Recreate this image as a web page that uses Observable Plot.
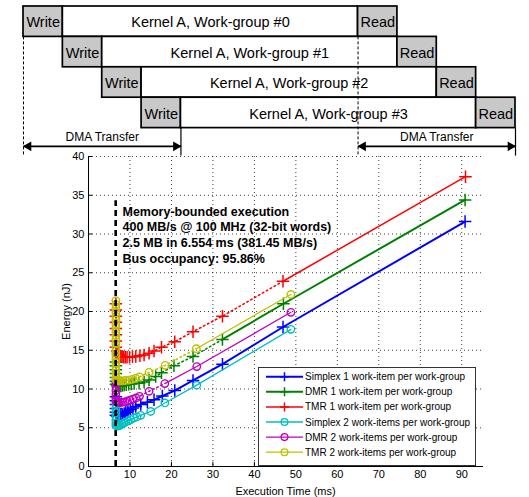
<!DOCTYPE html>
<html>
<head>
<meta charset="utf-8">
<script src="https://cdn.jsdelivr.net/npm/d3@7"></script>
<script src="https://cdn.jsdelivr.net/npm/@observablehq/plot@0.6"></script>
<style>
  body { margin: 0; background: #fff; }
  #wrap { position: relative; width: 529px; height: 497px; font-family: Arial, "Liberation Sans", sans-serif; overflow: hidden; }
  #main { position: absolute; left: 0; top: 150px; }
  #top { position: absolute; left: 0; top: 0; }
  #legend { position: absolute; left: 258px; top: 367px; }
</style>
</head>
<body>
<div id="wrap"><div id="main"></div><div id="top"></div><div id="legend"></div></div>
<script>
// ---------- Top timing diagram (time in units of one DMA write) ----------
const rows = [0, 1, 2, 3];
const writeStart = [0, 1, 2, 3];
const writeLen = 1;
const kernelLen = 7.5;
const readLen = 1;
const kernelLabels = ["Kernel A, Work-group #0", "Kernel A, Work-group #1", "Kernel A, Work-group #2", "Kernel A, Work-group #3"];
const writeLabel = "Write";
const readLabel = "Read";
const dmaLabel = "DMA Transfer";
const dmaStart = [0, 8.5];
const dmaEnd = [4, 12.5];
const guideX = [0, 4, 8.5, 12.5];
const guideFrom = [1, 4, 1, 4];
const guideDashed = [true, false, true, false];

// ---------- Energy vs execution time ----------
const xTicks = [0, 10, 20, 30, 40, 50, 60, 70, 80, 90];
const yTicks = [0, 5, 10, 15, 20, 25, 30, 35, 40];
const seriesNames = [
  "Simplex 1 work-item per work-group",
  "DMR 1 work-item per work-group",
  "TMR 1 work-item per work-group",
  "Simplex 2 work-items per work-group",
  "DMR 2 work-items per work-group",
  "TMR 2 work-items per work-group"
];
const simplex1X = [6.6, 6.6, 6.6, 6.6, 6.6, 6.6, 6.9, 7.2, 7.5, 7.8, 8.2, 8.6, 9.0, 9.5, 10.1, 10.7, 11.4, 12.6, 14.2, 15.8, 17.8, 20.8, 25.2, 32.3, 46.9, 90.8];
const simplex1Y = [9.0, 8.5, 8.0, 7.5, 7.0, 6.6, 6.5, 6.5, 6.55, 6.6, 6.7, 6.85, 7.0, 7.15, 7.35, 7.55, 7.75, 8.0, 8.3, 8.6, 9.1, 9.8, 11.1, 13.2, 18.0, 31.6];
const dmr1X = [6.6, 6.6, 6.6, 6.6, 6.6, 6.6, 6.6, 6.9, 7.2, 7.5, 7.8, 8.2, 8.6, 9.1, 9.7, 10.3, 11.0, 12.2, 13.4, 14.6, 16.2, 17.6, 20.6, 25.2, 32.3, 47.0, 90.8];
const dmr1Y = [13.5, 13.0, 12.5, 12.0, 11.5, 11.0, 10.6, 10.45, 10.4, 10.4, 10.4, 10.45, 10.5, 10.55, 10.6, 10.65, 10.7, 10.75, 10.9, 11.15, 11.6, 12.1, 13.0, 14.2, 16.4, 21.0, 34.4];
const tmr1X = [6.6, 6.6, 6.6, 6.6, 6.6, 6.6, 6.6, 6.6, 6.9, 7.1, 7.3, 7.5, 7.8, 8.1, 8.5, 8.9, 9.3, 9.9, 10.6, 11.4, 12.4, 13.4, 14.6, 15.8, 17.6, 20.8, 25.2, 32.3, 46.9, 90.9];
const tmr1Y = [21.0, 20.2, 19.4, 18.6, 17.8, 17.0, 16.2, 15.4, 14.9, 14.6, 14.4, 14.3, 14.2, 14.15, 14.1, 14.1, 14.1, 14.1, 14.15, 14.2, 14.3, 14.4, 14.6, 14.9, 15.4, 16.1, 17.4, 19.4, 23.9, 37.4];
const simplex2X = [6.6, 6.6, 6.6, 6.6, 6.6, 6.6, 6.6, 6.9, 7.3, 7.7, 8.1, 8.5, 9.0, 9.6, 10.2, 10.9, 11.7, 12.6, 15.0, 18.4, 26.1, 48.8];
const simplex2Y = [8.0, 7.5, 7.0, 6.5, 6.0, 5.6, 5.3, 5.2, 5.25, 5.35, 5.5, 5.6, 5.75, 5.9, 6.05, 6.25, 6.4, 6.6, 7.1, 8.2, 10.5, 17.7];
const dmr2X = [6.6, 6.6, 6.6, 6.6, 6.6, 6.6, 6.9, 7.3, 7.7, 8.2, 8.8, 9.4, 10.0, 10.7, 11.5, 12.3, 14.6, 18.4, 26.1, 48.8];
const dmr2Y = [10.8, 10.3, 9.8, 9.3, 8.8, 8.4, 8.3, 8.25, 8.25, 8.3, 8.35, 8.45, 8.55, 8.7, 8.85, 9.05, 9.7, 10.7, 12.9, 19.9];
const tmr2X = [6.6, 6.6, 6.6, 6.6, 6.6, 6.6, 6.6, 6.6, 6.6, 6.6, 6.6, 6.6, 6.6, 6.6, 6.6, 6.6, 6.6, 6.6, 6.6, 6.6, 6.6, 6.6, 6.9, 7.3, 7.7, 8.2, 8.9, 9.7, 10.5, 11.4, 12.3, 14.6, 18.5, 26.0, 48.8];
const tmr2Y = [21.4, 20.9, 20.4, 19.9, 19.4, 18.9, 18.4, 17.9, 17.4, 16.9, 16.4, 15.9, 15.4, 14.9, 14.4, 13.9, 13.4, 12.9, 12.4, 11.9, 11.5, 11.2, 11.1, 11.05, 11.05, 11.05, 11.1, 11.15, 11.25, 11.4, 11.55, 12.15, 13.05, 15.2, 22.2];
// points at or beyond this execution time are joined by a solid line, earlier ones by a dotted line
const solidFrom = [0, 32.3, 46.9, 0, 18.4, 26.0];
const memBoundTime = 6.554;
const memBoundTop = 34.3;
const annotation = [
  "Memory-bounded execution",
  "400 MB/s @ 100 MHz (32-bit words)",
  "2.5 MB in 6.554 ms (381.45 MB/s)",
  "Bus occupancy: 95.86%"
];
const annotationX = 8.2;
const annotationY = 33.8;

const seriesX = [simplex1X, dmr1X, tmr1X, simplex2X, dmr2X, tmr2X];
const seriesY = [simplex1Y, dmr1Y, tmr1Y, simplex2Y, dmr2Y, tmr2Y];
const colors = ["#0000ff", "#008000", "#ff0000", "#00bfbf", "#bf00bf", "#bfbf00"];
const lineWidths = [2, 2, 1.5, 1.3, 1.3, 1.3];
const symbols = ["plus", "plus", "plus", "circle", "circle", "circle"];
const FONT = "Arial, 'Liberation Sans', sans-serif";

// ---------- build top diagram ----------
const stages = [];
rows.forEach((r, i) => {
  const w0 = writeStart[i];
  stages.push({row: r, x1: w0, x2: w0 + writeLen, kind: "io", label: writeLabel});
  stages.push({row: r, x1: w0 + writeLen, x2: w0 + writeLen + kernelLen, kind: "kernel", label: kernelLabels[i]});
  stages.push({row: r, x1: w0 + writeLen + kernelLen, x2: w0 + writeLen + kernelLen + readLen, kind: "io", label: readLabel});
});
const guides = guideX.map((x, i) => ({x, from: guideFrom[i], dashed: guideDashed[i]}));
const dma = dmaStart.map((s, i) => ({x1: s, x2: dmaEnd[i], label: dmaLabel}));
const arrowY = 4.6;
const guideEnd = 4.92;

const topPlot = Plot.plot({
  width: 529, height: 160,
  marginTop: 6, marginBottom: 2, marginLeft: 23, marginRight: 14,
  style: {background: "transparent", overflow: "visible", fontFamily: FONT},
  x: {domain: [0, 12.5], axis: null},
  y: {domain: [0, 5], reverse: true, axis: null},
  marks: [
    Plot.rect(stages, {x1: "x1", x2: "x2", y1: "row", y2: d => d.row + 1,
      fill: d => d.kind === "kernel" ? "#ffffff" : "#c8c8c8", stroke: "#000", strokeWidth: 1.7}),
    Plot.text(stages, {x: d => (d.x1 + d.x2) / 2, y: d => d.row + 0.5, text: "label",
      fontSize: 14.5, fill: "#000", dy: 1}),
    Plot.ruleX(guides.filter(g => g.dashed), {x: "x", y1: "from", y2: guideEnd, stroke: "#000", strokeWidth: 1, strokeDasharray: "3,2"}),
    Plot.ruleX(guides.filter(g => !g.dashed), {x: "x", y1: "from", y2: guideEnd, stroke: "#000", strokeWidth: 1.2}),
    Plot.link(dma, {x1: "x1", x2: "x2", y1: arrowY, y2: arrowY, stroke: "#000", strokeWidth: 1.6}),
    Plot.dot(dma, {x: "x2", y: arrowY, symbol: "triangle", r: 3.6, fill: "#000", stroke: "none", rotate: 90, dx: -5}),
    Plot.dot(dma, {x: "x1", y: arrowY, symbol: "triangle", r: 3.6, fill: "#000", stroke: "none", rotate: -90, dx: 5}),
    Plot.text(dma, {x: d => (d.x1 + d.x2) / 2, y: 4.3, text: "label", fontSize: 12, fill: "#000"})
  ]
});
document.getElementById("top").appendChild(topPlot);

// ---------- build main chart ----------
const seriesMarks = seriesNames.flatMap((name, i) => {
  const pts = seriesX[i].map((x, j) => ({x, y: seriesY[i][j]}));
  const dotted = pts.filter(p => p.x <= solidFrom[i]);
  const solid = pts.filter(p => p.x >= solidFrom[i]);
  const isPlus = symbols[i] === "plus";
  return [
    Plot.line(dotted, {x: "x", y: "y", stroke: colors[i], strokeWidth: 1.6, strokeDasharray: "1.5,3"}),
    Plot.line(solid, {x: "x", y: "y", stroke: colors[i], strokeWidth: lineWidths[i]}),
    Plot.dot(pts, {x: "x", y: "y", symbol: symbols[i], r: isPlus ? 4.1 : 3.7, stroke: colors[i], fill: "none", strokeWidth: isPlus ? 1.5 : 1.4})
  ];
});

const mainPlot = Plot.plot({
  width: 529, height: 347,
  marginTop: 6, marginBottom: 31, marginLeft: 88, marginRight: 47,
  style: {background: "transparent", overflow: "visible", fontFamily: FONT, fontSize: "11px", color: "#000"},
  x: {domain: [0, 95], ticks: xTicks, tickSize: 0, tickPadding: 4, label: "Execution Time (ms)", labelArrow: "none", labelAnchor: "center", labelOffset: 28, line: true},
  y: {domain: [0, 40], ticks: yTicks, tickSize: 0, tickPadding: 4, label: "Energy (nJ)", labelArrow: "none", labelAnchor: "center", labelOffset: 26, line: true},
  marks: [
    Plot.ruleY(yTicks, {stroke: "#000", strokeOpacity: 0.75, strokeDasharray: "1,3"}),
    Plot.ruleX(xTicks, {stroke: "#000", strokeOpacity: 0.75, strokeDasharray: "1,3"}),
    Plot.ruleY(yTicks, {x1: 0, x2: 1, stroke: "#000"}),
    Plot.ruleX(xTicks, {y1: 0, y2: 0.55, stroke: "#000"}),
    ...seriesMarks,
    Plot.ruleX([memBoundTime], {y1: 0, y2: memBoundTop, stroke: "#000", strokeWidth: 2.6, strokeDasharray: "6,4"}),
    Plot.text([annotation.join("\n")], {x: annotationX, y: annotationY, text: d => d, textAnchor: "start", lineAnchor: "top",
      lineHeight: 1.26, fontSize: 12.5, fontWeight: "bold", fill: "#000"})
  ]
});
document.getElementById("main").appendChild(mainPlot);

// ---------- legend ----------
const legW = 218, legH = 99;
const leg = d3.select("#legend").append("svg").attr("width", legW).attr("height", legH)
  .style("font-family", FONT).style("overflow", "visible");
leg.append("rect").attr("x", 0.5).attr("y", 0.5).attr("width", legW - 1).attr("height", legH - 1)
  .attr("fill", "#fff").attr("stroke", "#333").attr("stroke-width", 1);
seriesNames.forEach((name, i) => {
  const g = leg.append("g").attr("transform", `translate(0,${9.7 + 15.1 * i})`);
  g.append("line").attr("x1", 8).attr("x2", 45).attr("y1", 0).attr("y2", 0)
    .attr("stroke", colors[i]).attr("stroke-width", lineWidths[i]);
  if (symbols[i] === "plus") {
    g.append("path").attr("d", "M26.5,-4.5V4.5M22,0H31").attr("stroke", colors[i]).attr("stroke-width", 1.5).attr("fill", "none");
  } else {
    g.append("circle").attr("cx", 26.5).attr("cy", 0).attr("r", 3.4).attr("stroke", colors[i]).attr("stroke-width", 1.3).attr("fill", "none");
  }
  g.append("text").attr("x", 47).attr("y", 0).attr("dy", "0.35em").attr("font-size", 10).attr("fill", "#000").text(name);
});
</script>
</body>
</html>
